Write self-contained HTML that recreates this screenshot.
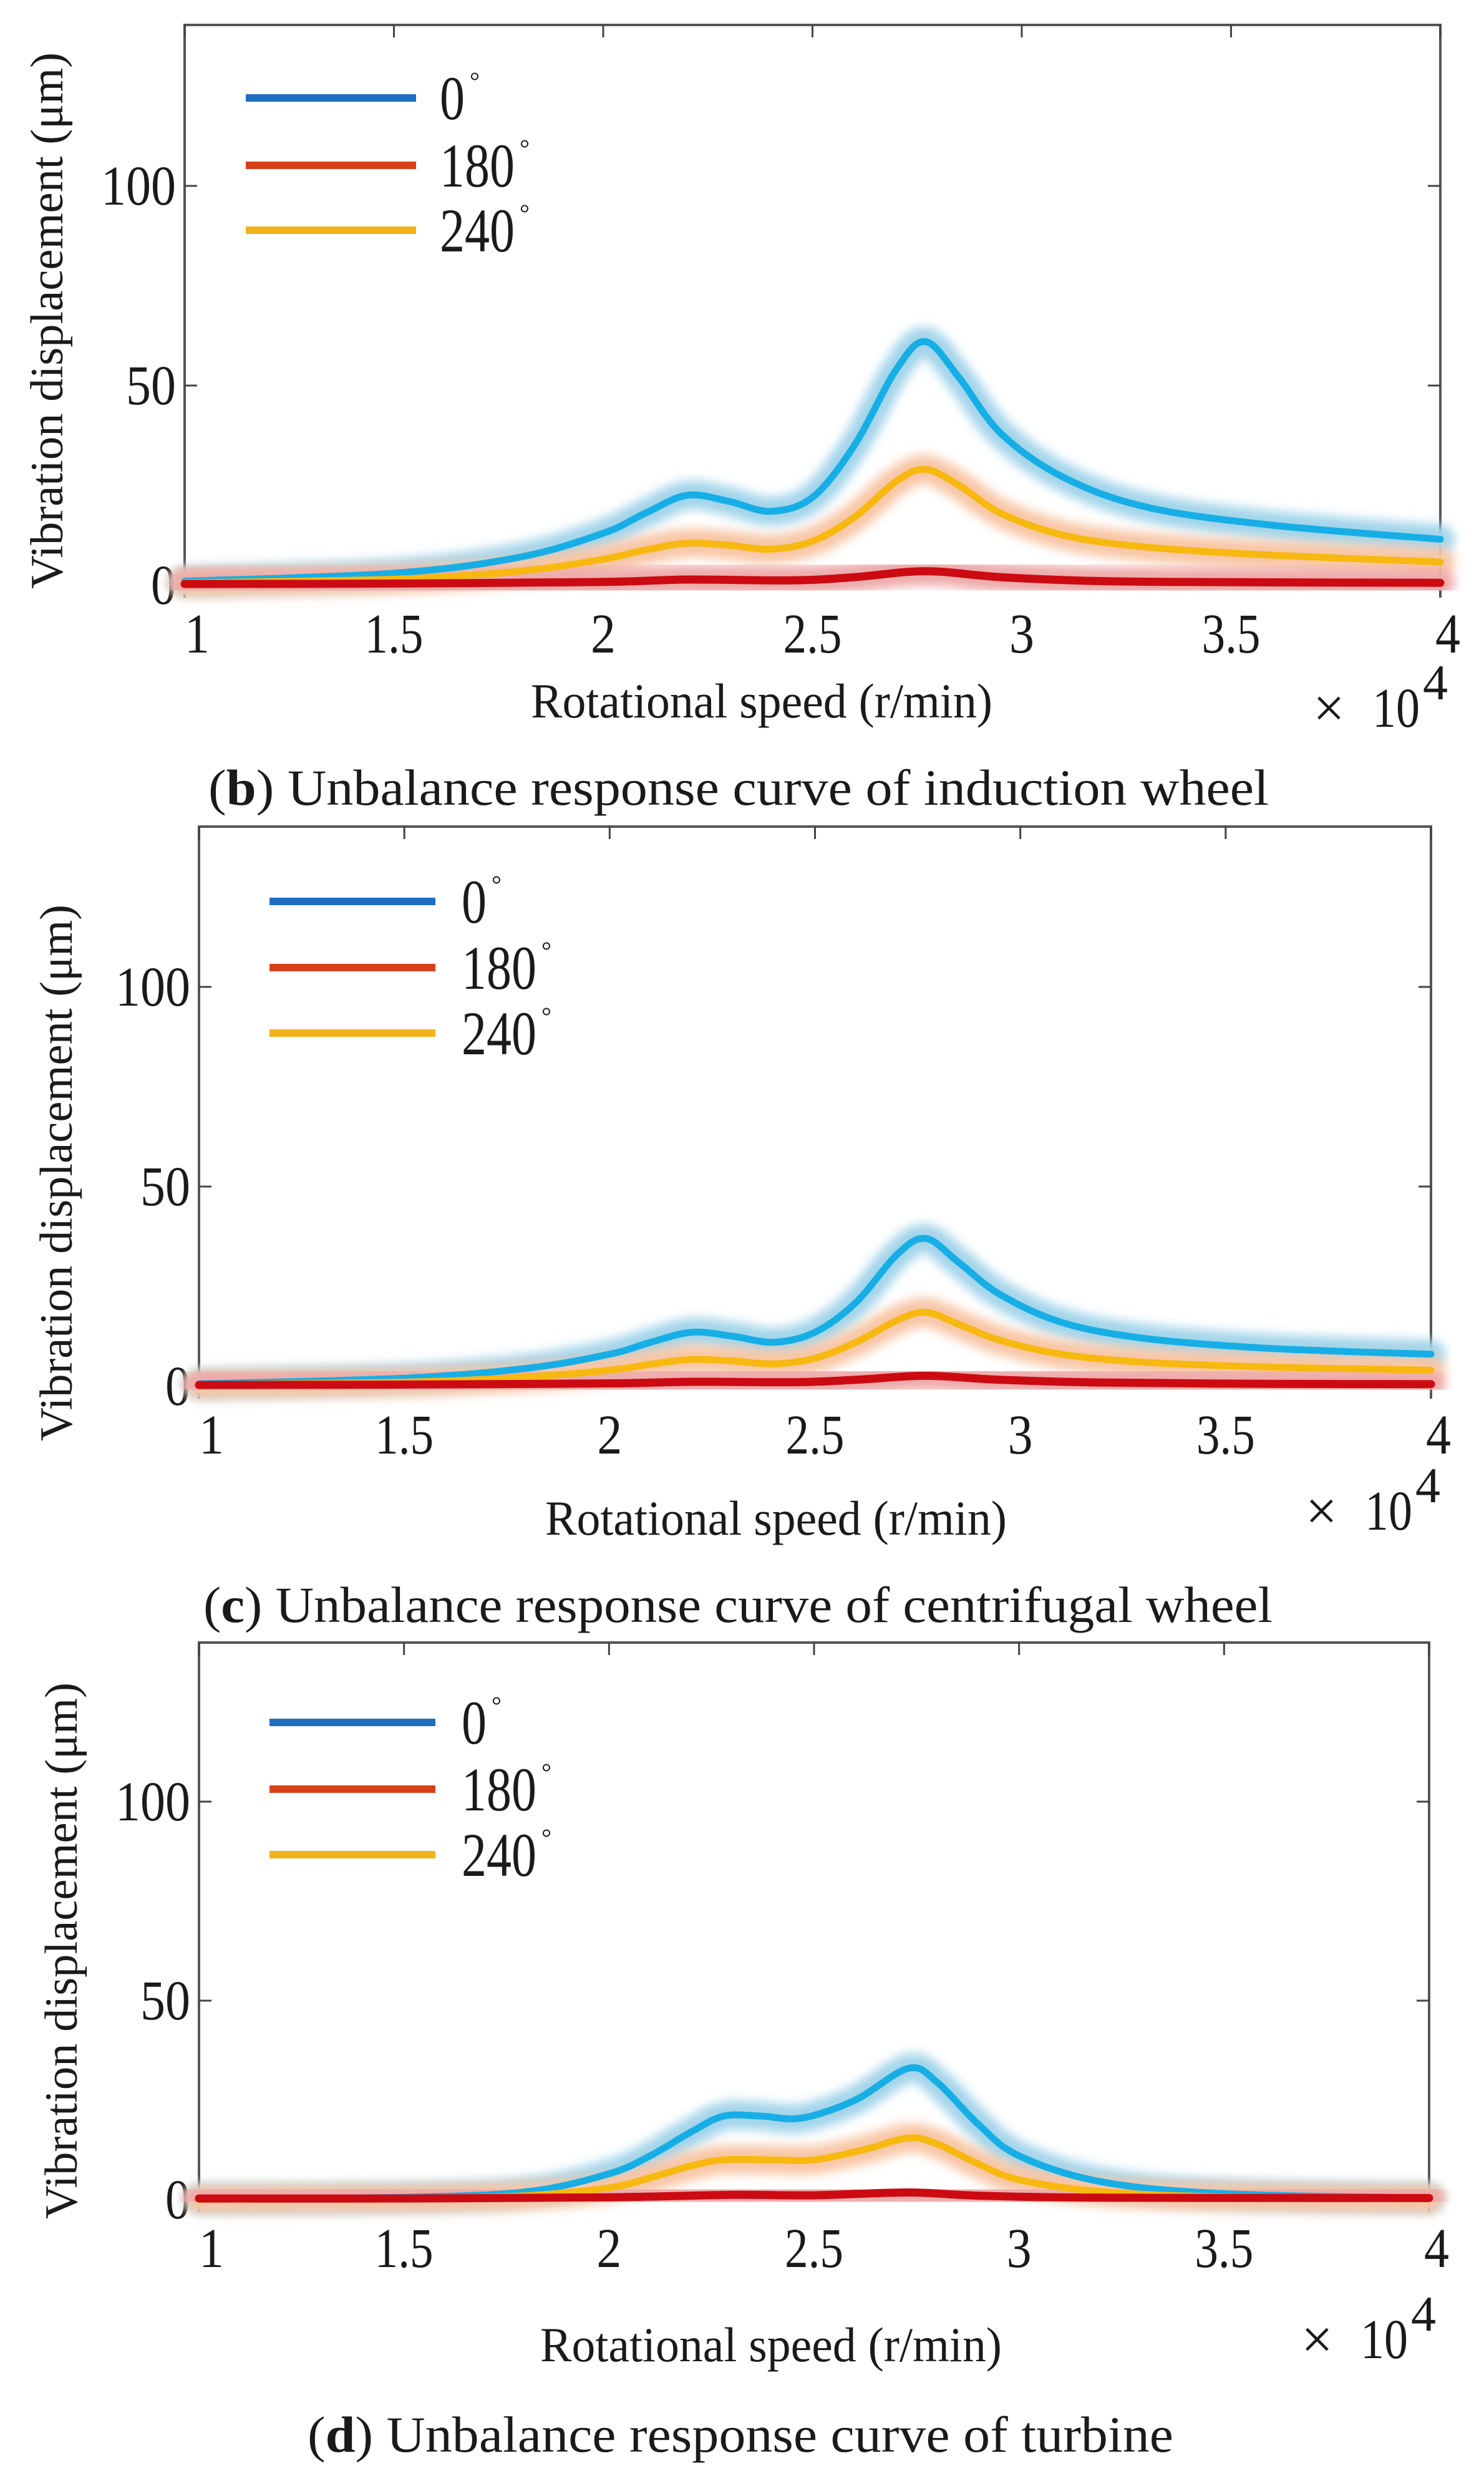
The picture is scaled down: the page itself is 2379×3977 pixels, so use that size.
<!DOCTYPE html>
<html><head><meta charset="utf-8"><style>
html,body{margin:0;padding:0;background:#fff;}
svg{display:block;font-family:"Liberation Serif","DejaVu Serif",serif;}
svg text{font-family:"Liberation Serif","DejaVu Serif",serif;fill:#1a1a1a;}
</style></head><body>
<svg id="s" width="2379" height="3977" viewBox="0 0 2379 3977" xmlns="http://www.w3.org/2000/svg" font-family="Liberation Serif, DejaVu Serif, serif">
<defs>
<filter id="blur" x="-10%" y="-50%" width="120%" height="200%"><feGaussianBlur stdDeviation="8"/></filter>
</defs>
</svg>
<script>
const S=document.getElementById('s');
let out='';
const P=[
 {L:296,R:2309,T:40,y0:938,k:6.4,ylc:[76,514],xl:[1221,1150],x10:[2105,1165],cap:[1184,1290,1700],cb:'b',ct:' Unbalance response curve of induction wheel',leg:[394,667,705,[157,265,369]],
  blue:[[1,1],[1.5,3],[1.8,7],[2.0,13],[2.1,18],[2.2,22.5],[2.3,21],[2.4,18.5],[2.5,22],[2.6,35],[2.7,54],[2.77,61],[2.85,52],[2.95,38],[3.1,27],[3.3,19.5],[3.6,15],[4,11.5]],
  orange:[[1,0.6],[1.5,1.5],[1.8,3.5],[2.0,6.5],[2.1,8.8],[2.2,10.5],[2.3,10],[2.4,9],[2.5,11],[2.6,17],[2.7,26],[2.77,29],[2.85,25],[2.95,18],[3.1,12.5],[3.3,9.5],[3.6,7.5],[4,5.8]],
  red:[[1,0.3],[1.5,0.4],[2.0,0.8],[2.2,1.4],[2.45,1.2],[2.6,2],[2.77,3.5],[2.95,2],[3.2,1],[3.6,0.7],[4,0.6]]},
 {L:319,R:2294,T:1325,y0:2222,k:6.4,ylc:[91,1880],xl:[1244,2460],x10:[2093,2452],cap:[1183,2600,1714],cb:'c',ct:' Unbalance response curve of centrifugal wheel',leg:[432,698,740,[1445,1551,1656]],
  blue:[[1,0.6],[1.5,2],[1.8,4.5],[2.0,8],[2.1,11],[2.2,13.5],[2.3,12.5],[2.4,11],[2.5,13.5],[2.6,21],[2.7,33],[2.77,37],[2.85,31],[2.95,23],[3.1,16],[3.3,12],[3.6,9.5],[4,8]],
  orange:[[1,0.4],[1.5,1],[1.8,2.3],[2.0,4],[2.1,5.5],[2.2,6.7],[2.3,6.3],[2.4,5.6],[2.5,7],[2.6,11],[2.7,16.5],[2.77,18.5],[2.85,15.5],[2.95,11.5],[3.1,8],[3.3,6],[3.6,4.8],[4,4]],
  red:[[1,0.3],[1.5,0.4],[2.0,0.7],[2.2,1.1],[2.45,1],[2.6,1.6],[2.77,2.6],[2.95,1.6],[3.2,0.9],[3.6,0.6],[4,0.5]]},
 {L:319,R:2291,T:2633,y0:3526,k:6.38,ylc:[99,3127],xl:[1236,3785],x10:[2086,3780],cap:[1187,3930,1388],cb:'d',ct:' Unbalance response curve of turbine',leg:[432,698,740,[2761,2868,2973]],
  blue:[[1,0.2],[1.5,0.6],[1.8,2],[2.0,6.5],[2.1,11],[2.2,17],[2.28,21],[2.37,21],[2.47,20.5],[2.6,25],[2.73,33],[2.8,29.5],[2.9,19],[3.0,11],[3.2,4.5],[3.5,1.5],[4,0.4]],
  orange:[[1,0.1],[1.5,0.3],[1.8,1],[2.0,3],[2.1,5.5],[2.2,8.5],[2.28,10],[2.4,10],[2.5,10],[2.62,12.5],[2.73,15.5],[2.8,14],[2.9,9],[3.0,5],[3.2,2],[3.5,0.7],[4,0.2]],
  red:[[1,0.3],[1.5,0.3],[2.0,0.6],[2.3,1.2],[2.5,1.1],[2.73,1.8],[2.9,1],[3.2,0.5],[4,0.4]]}
];
function path(pts,p){
  const X=x=>p.L+(x-1)/3*(p.R-p.L), Y=y=>p.y0-y*p.k;
  const q=pts.map(a=>[X(a[0]),Y(a[1])]);
  let d='M'+q[0][0].toFixed(1)+','+q[0][1].toFixed(1);
  for(let i=0;i<q.length-1;i++){
    const p0=q[Math.max(i-1,0)],p1=q[i],p2=q[i+1],p3=q[Math.min(i+2,q.length-1)];
    const c1=[p1[0]+(p2[0]-p0[0])/6,p1[1]+(p2[1]-p0[1])/6];
    const c2=[p2[0]-(p3[0]-p1[0])/6,p2[1]-(p3[1]-p1[1])/6];
    d+=' C'+c1.map(v=>v.toFixed(1))+' '+c2.map(v=>v.toFixed(1))+' '+p2[0].toFixed(1)+','+p2[1].toFixed(1);
  }
  return d;
}
const F='font-family="Liberation Serif, DejaVu Serif, serif"';
const C={blue:['#a3d4ea','#17aee6','#1e6fbf'],red:['#eeaaaa','#cc0a12','#d8401a'],orange:['#f8c6a6','#f7b810','#f2b21a']};
P.forEach(p=>{
  const w=p.R-p.L;
  out+=`<path d="M${p.L},${p.y0+20} V${p.T} H${p.R} V${p.y0+20}" fill="none" stroke="#555" stroke-width="4"/>`;
  for(let i=0;i<=6;i++){const x=p.L+i*w/6;out+=`<line x1="${x}" y1="${p.T}" x2="${x}" y2="${p.T+20}" stroke="#444" stroke-width="3"/>`;}
  [0,50,100].forEach(v=>{const y=p.y0-v*p.k;out+=`<line x1="${p.L}" y1="${y}" x2="${p.L+20}" y2="${y}" stroke="#444" stroke-width="3"/><line x1="${p.R}" y1="${y}" x2="${p.R-20}" y2="${y}" stroke="#444" stroke-width="3"/>`;
    const lw={0:40,50:80,100:120}[v];
    out+=`<text ${F} x="${p.L-14}" y="${y+30}" font-size="90" text-anchor="end" textLength="${lw}" lengthAdjust="spacingAndGlyphs">${v}</text>`;});
  ['1','1.5','2','2.5','3','3.5','4'].forEach((t,i)=>{const x=p.L+i*w/6;const lw=t.length==1?40:94;
    out+=`<text ${F} x="${x+(i==0?20:i==6?12:0)}" y="${p.y0+108}" font-size="90" text-anchor="middle" textLength="${lw}" lengthAdjust="spacingAndGlyphs">${t}</text>`;});
  ['blue','orange','red'].forEach(s=>{const d=path(p[s],p);
    out+=`<path d="${d}" fill="none" stroke="${C[s][0]}" stroke-width="46" stroke-linecap="round" stroke-linejoin="round" filter="url(#blur)"/>`;});
  ['blue','orange','red'].forEach(s=>{const d=path(p[s],p);
    out+=`<path d="${d}" fill="none" stroke="${C[s][1]}" stroke-width="${s=='red'?13:11}" stroke-linecap="round" stroke-linejoin="round"/>`;});
  const [l1,l2,tx,ys]=p.leg; const labs=['0','180','240'];
  ['blue','red','orange'].forEach((s,i)=>{
    out+=`<line x1="${l1}" y1="${ys[i]}" x2="${l2}" y2="${ys[i]}" stroke="${C[s][0]}" stroke-width="48" stroke-linecap="round" filter="url(#blur)"/>`;
    out+=`<line x1="${l1}" y1="${ys[i]}" x2="${l2}" y2="${ys[i]}" stroke="${C[s][2]}" stroke-width="12"/>`;
    const lw=labs[i].length*40;
    out+=`<text ${F} x="${tx}" y="${ys[i]+34}" font-size="100" textLength="${lw}" lengthAdjust="spacingAndGlyphs">${labs[i]}</text>`;
    out+=`<text ${F} x="${tx+lw+8}" y="${ys[i]-14}" font-size="40">°</text>`;
  });
  out+=`<text ${F} transform="translate(${p.ylc[0]+24},${p.ylc[1]}) rotate(-90)" font-size="74" text-anchor="middle" textLength="860" lengthAdjust="spacingAndGlyphs">Vibration displacement (μm)</text>`;
  out+=`<text ${F} x="${p.xl[0]}" y="${p.xl[1]}" font-size="78" text-anchor="middle" textLength="740" lengthAdjust="spacingAndGlyphs">Rotational speed (r/min)</text>`;
  out+=`<text ${F} x="${p.x10[0]}" y="${p.x10[1]}" font-size="90" fill="#333">×</text><text ${F} x="${p.x10[0]+95}" y="${p.x10[1]}" font-size="90" textLength="76" lengthAdjust="spacingAndGlyphs">10</text><text ${F} x="${p.x10[0]+176}" y="${p.x10[1]-44}" font-size="80">4</text>`;
  out+=`<text ${F} x="${p.cap[0]}" y="${p.cap[1]}" font-size="82" text-anchor="middle" textLength="${p.cap[2]}" lengthAdjust="spacingAndGlyphs">(<tspan font-weight="bold">${p.cb}</tspan>)${p.ct}</text>`;
});
S.insertAdjacentHTML('beforeend',out);
</script>
</body></html>
